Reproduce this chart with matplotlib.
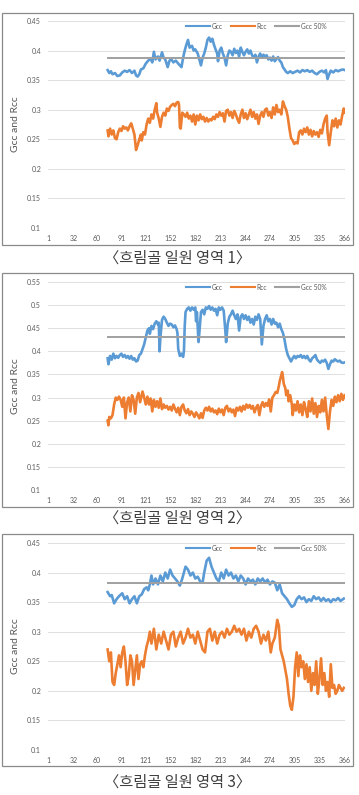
import matplotlib
matplotlib.use("Agg")
from matplotlib import pyplot as plt
from matplotlib.patches import Rectangle

plt.rcParams['font.family'] = ['Lato', 'DejaVu Sans']

# ---- data (day of year, value) ----
x_ticks = [1, 32, 60, 91, 121, 152, 182, 213, 244, 274, 305, 335, 366]
captions = ["〈흐림골 일원 영역 1〉", "〈흐림골 일원 영역 2〉", "〈흐림골 일원 영역 3〉"]
series_names = ["Gcc", "Rcc", "Gcc 50%"]

p1_gcc_day = [74, 76, 78, 80, 83, 86, 89, 92, 95, 98, 101, 104, 107, 109, 111, 113, 115, 118, 121, 124,
              127, 129, 131, 133, 136, 138, 141, 143, 145, 148, 150, 152, 155, 158, 161, 163, 165, 167, 169, 171,
              173, 175, 178, 180, 182, 185, 187, 189, 191, 193, 195, 197, 199, 201, 203, 205, 207, 209, 210, 212,
              214, 216, 218, 220, 222, 224, 226, 228, 230, 232, 234, 236, 238, 240, 242, 244, 246, 248, 250, 252,
              254, 256, 258, 260, 262, 264, 266, 268, 270, 272, 274, 276, 278, 280, 282, 284, 286, 288, 290, 292,
              294, 296, 299, 302, 305, 308, 311, 314, 317, 320, 323, 326, 329, 332, 335, 338, 341, 343, 345, 347,
              349, 352, 355, 358, 361, 364, 366]
p1_gcc = [.367, .362, .365, .360, .362, .357, .358, .363, .366, .364, .367, .362, .366, .358, .356, .360, .368, .370, .378, .383,
          .386, .380, .398, .385, .390, .383, .397, .388, .385, .372, .382, .386, .380, .383, .378, .375, .372, .388, .400, .410,
          .418, .405, .408, .400, .402, .395, .385, .375, .388, .395, .405, .418, .422, .415, .420, .410, .402, .395, .382, .400,
          .405, .395, .388, .375, .392, .400, .398, .392, .403, .396, .400, .390, .405, .398, .392, .398, .402, .395, .400, .392,
          .388, .393, .380, .390, .395, .388, .393, .390, .392, .385, .388, .383, .390, .382, .386, .389, .383, .380, .372, .368,
          .364, .362, .365, .362, .364, .366, .363, .367, .365, .367, .364, .366, .362, .360, .364, .366, .363, .367, .352, .360,
          .366, .363, .367, .365, .367, .368, .367]
p1_rcc_day = [74, 75, 77, 79, 81, 83, 85, 87, 89, 91, 93, 95, 97, 99, 101, 103, 105, 107, 109, 111,
              113, 115, 116, 118, 120, 122, 124, 126, 128, 130, 132, 134, 135, 137, 139, 141, 143, 145, 147, 149,
              151, 153, 155, 157, 159, 161, 162, 163, 164, 166, 168, 170, 172, 174, 176, 178, 180, 182, 184, 186,
              188, 190, 192, 194, 196, 198, 200, 202, 204, 206, 208, 210, 212, 214, 216, 218, 220, 222, 224, 226,
              228, 230, 232, 234, 236, 238, 240, 242, 244, 246, 248, 250, 252, 254, 256, 258, 260, 262, 264, 266,
              268, 270, 272, 274, 276, 278, 280, 282, 284, 286, 288, 290, 292, 294, 296, 298, 300, 302, 304, 306,
              308, 310, 312, 314, 316, 318, 320, 322, 324, 326, 328, 330, 332, 334, 336, 338, 340, 342, 344, 345,
              347, 349, 351, 353, 355, 357, 359, 361, 363, 365, 366]
p1_rcc = [.265, .255, .268, .258, .265, .252, .250, .262, .268, .264, .272, .268, .270, .265, .272, .277, .268, .258, .232, .240,
          .250, .258, .248, .262, .258, .275, .285, .278, .292, .285, .300, .311, .295, .285, .271, .288, .295, .290, .302, .298,
          .305, .308, .310, .306, .312, .313, .308, .270, .268, .295, .292, .288, .295, .285, .290, .280, .292, .275, .290, .282,
          .292, .284, .288, .280, .286, .280, .284, .282, .288, .284, .292, .288, .296, .290, .294, .280, .298, .300, .290, .296,
          .286, .298, .292, .284, .278, .292, .300, .286, .294, .284, .292, .300, .288, .296, .285, .292, .276, .290, .296, .288,
          .300, .302, .290, .296, .286, .304, .292, .308, .296, .300, .292, .314, .306, .300, .288, .268, .252, .248, .242, .245,
          .243, .262, .265, .258, .268, .262, .270, .258, .266, .255, .264, .258, .262, .254, .266, .260, .275, .285, .290, .262,
          .240, .262, .282, .272, .285, .270, .282, .275, .290, .302, .295]

p2_gcc_day = [74, 75, 77, 79, 81, 83, 85, 87, 89, 91, 93, 95, 97, 99, 101, 103, 105, 107, 109, 111,
              113, 115, 117, 119, 121, 123, 125, 126, 128, 130, 132, 134, 136, 137, 138, 139, 141, 143, 145, 147,
              149, 151, 153, 155, 157, 159, 160, 161, 163, 165, 167, 168, 169, 170, 172, 174, 176, 178, 180, 182,
              183, 184, 186, 187, 189, 191, 193, 195, 197, 199, 201, 203, 205, 207, 209, 211, 213, 215, 217, 219,
              220, 222, 224, 226, 228, 230, 232, 234, 236, 238, 240, 242, 244, 246, 248, 250, 252, 254, 256, 258,
              260, 262, 264, 266, 268, 270, 272, 274, 276, 278, 280, 282, 284, 286, 288, 290, 292, 294, 296, 298,
              300, 302, 304, 306, 308, 310, 312, 314, 316, 318, 320, 322, 324, 326, 328, 330, 332, 334, 336, 338,
              340, 342, 344, 346, 348, 350, 352, 354, 356, 358, 360, 362, 364, 366]
p2_gcc = [.385, .372, .390, .382, .395, .385, .390, .386, .392, .395, .388, .392, .386, .390, .384, .390, .382, .385, .378, .380,
          .392, .395, .405, .415, .430, .445, .450, .438, .455, .448, .460, .465, .458, .462, .400, .430, .468, .475, .470, .462,
          .455, .460, .458, .452, .456, .448, .440, .405, .390, .395, .388, .400, .455, .485, .492, .495, .488, .495, .490, .495,
          .465, .485, .420, .440, .485, .490, .480, .495, .492, .498, .490, .495, .488, .492, .478, .495, .490, .495, .488, .445,
          .420, .460, .475, .480, .488, .478, .470, .480, .445, .475, .480, .470, .478, .468, .475, .462, .470, .458, .475, .468,
          .480, .470, .415, .455, .470, .478, .465, .470, .458, .470, .460, .462, .452, .460, .448, .440, .425, .405, .392, .385,
          .378, .385, .390, .385, .390, .388, .392, .386, .390, .385, .390, .382, .378, .385, .388, .392, .382, .378, .375, .380,
          .378, .382, .375, .362, .372, .380, .378, .383, .380, .378, .380, .376, .375, .376]
p2_rcc_day = [74, 75, 76, 78, 80, 82, 84, 86, 88, 90, 92, 94, 96, 98, 100, 102, 104, 106, 108, 110,
              112, 114, 116, 117, 119, 121, 123, 125, 127, 129, 131, 133, 135, 137, 139, 141, 143, 145, 147, 149,
              151, 153, 155, 157, 159, 161, 163, 165, 167, 169, 171, 173, 175, 177, 179, 181, 183, 185, 187, 189,
              191, 193, 195, 197, 199, 201, 203, 205, 207, 209, 211, 213, 215, 217, 219, 221, 223, 225, 227, 229,
              231, 233, 235, 237, 239, 241, 243, 245, 247, 249, 251, 253, 255, 257, 259, 261, 263, 265, 267, 269,
              271, 273, 275, 277, 279, 281, 283, 285, 286, 288, 289, 290, 291, 293, 294, 296, 297, 299, 301, 302,
              304, 306, 308, 310, 312, 314, 316, 318, 320, 322, 324, 326, 328, 330, 332, 334, 336, 338, 340, 342,
              344, 346, 348, 350, 352, 354, 356, 358, 360, 362, 364, 366]
p2_rcc = [.250, .240, .258, .255, .262, .285, .300, .295, .302, .295, .280, .300, .255, .290, .300, .270, .305, .295, .265, .300,
          .310, .290, .305, .313, .300, .285, .302, .285, .298, .270, .295, .280, .292, .278, .298, .275, .285, .278, .282, .274,
          .280, .272, .285, .276, .268, .278, .262, .280, .285, .272, .266, .275, .262, .270, .265, .258, .268, .262, .255, .266,
          .256, .272, .278, .272, .280, .270, .276, .268, .272, .264, .276, .268, .274, .262, .278, .282, .270, .276, .268, .274,
          .260, .278, .272, .280, .270, .282, .274, .285, .278, .284, .276, .282, .268, .278, .284, .262, .282, .290, .280, .288,
          .282, .296, .270, .300, .305, .312, .310, .325, .335, .348, .355, .345, .330, .320, .305, .315, .292, .305, .285, .262,
          .285, .272, .292, .268, .285, .262, .290, .275, .258, .292, .270, .298, .265, .288, .258, .282, .268, .295, .270, .300,
          .262, .232, .270, .295, .282, .302, .290, .305, .292, .308, .295, .305]

p3_gcc_day = [74, 77, 79, 82, 85, 88, 92, 95, 98, 101, 104, 107, 110, 113, 116, 119, 122, 124, 126, 128,
              130, 133, 136, 139, 142, 145, 148, 151, 154, 157, 160, 163, 166, 170, 173, 176, 179, 182, 185, 188,
              191, 193, 196, 199, 202, 205, 208, 211, 214, 217, 220, 223, 226, 229, 232, 235, 238, 241, 244, 247,
              250, 253, 256, 259, 262, 265, 268, 271, 274, 277, 280, 283, 286, 289, 292, 295, 298, 301, 304, 307,
              310, 313, 316, 319, 322, 325, 328, 331, 334, 337, 340, 343, 346, 349, 352, 355, 358, 361, 365]
p3_gcc = [.367, .360, .362, .348, .355, .360, .365, .355, .360, .348, .355, .360, .348, .360, .363, .372, .375, .370, .380, .395,
          .380, .390, .380, .395, .385, .400, .390, .405, .395, .390, .385, .378, .390, .410, .405, .395, .400, .390, .393, .385,
          .383, .400, .420, .425, .410, .400, .390, .385, .400, .390, .405, .395, .400, .390, .395, .385, .395, .390, .380, .390,
          .385, .388, .380, .390, .385, .390, .383, .388, .380, .385, .383, .370, .380, .365, .360, .355, .348, .342, .345, .355,
          .360, .355, .358, .350, .355, .352, .360, .355, .358, .352, .357, .352, .355, .350, .355, .353, .357, .352, .356]
p3_rcc_day = [74, 76, 78, 80, 82, 84, 86, 88, 90, 92, 94, 96, 98, 100, 102, 104, 106, 108, 110, 112,
              114, 116, 118, 120, 122, 124, 126, 128, 131, 134, 137, 140, 143, 146, 149, 152, 155, 158, 161, 164,
              167, 170, 173, 176, 179, 182, 185, 188, 191, 194, 197, 200, 203, 206, 209, 212, 215, 218, 221, 224,
              227, 230, 233, 236, 239, 242, 245, 248, 251, 254, 257, 260, 263, 266, 269, 272, 275, 277, 280, 283,
              285, 287, 289, 291, 293, 295, 297, 299, 301, 303, 305, 307, 309, 311, 313, 315, 317, 319, 321, 323,
              325, 327, 329, 331, 333, 335, 337, 339, 341, 343, 345, 347, 349, 351, 353, 355, 357, 359, 361, 363, 365]
p3_rcc = [.270, .250, .265, .215, .210, .230, .245, .260, .240, .265, .275, .250, .210, .225, .260, .250, .210, .235, .260, .220,
          .245, .250, .240, .260, .275, .285, .300, .280, .305, .270, .295, .280, .300, .285, .270, .295, .300, .275, .290, .300,
          .280, .290, .305, .290, .295, .280, .300, .285, .270, .265, .300, .305, .285, .300, .280, .295, .300, .290, .305, .295,
          .300, .310, .300, .305, .295, .305, .285, .300, .290, .305, .310, .300, .280, .295, .285, .300, .265, .280, .290, .320,
          .310, .270, .260, .250, .235, .220, .195, .175, .168, .190, .240, .265, .225, .260, .240, .250, .220, .245, .215, .240,
          .200, .230, .210, .250, .195, .220, .255, .210, .230, .200, .215, .190, .245, .205, .210, .195, .200, .210, .205, .200, .205]

gcc50 = [0.387, 0.430, 0.383]
y_top = [0.45, 0.55, 0.45]
y_bottom = 0.1

panels = [
    (p1_gcc_day, p1_gcc, p1_rcc_day, p1_rcc),
    (p2_gcc_day, p2_gcc, p2_rcc_day, p2_rcc),
    (p3_gcc_day, p3_gcc, p3_rcc_day, p3_rcc),
]

W, H = 359, 795
fig = plt.figure(figsize=(W / 100, H / 100), dpi=100)

# pixel layout of each panel: (axes top, axes bottom, frame top, frame bottom, caption y)
layout = [(21, 228, 13, 245, 258), (282, 490, 273, 507, 518), (543, 750, 534, 766, 782)]
ax_left, ax_right = 48, 345

blue, orange, grey = "#5B9BD5", "#ED7D31", "#A0A0A0"
txt = "#595959"

for i, (gd, gv, rd, rv) in enumerate(panels):
    a_top, a_bot, f_top, f_bot, cap_y = layout[i]
    fig.patches.append(Rectangle((2 / W, 1 - f_bot / H), 351 / W, (f_bot - f_top) / H,
                                 transform=fig.transFigure, fill=False, ec="#8a8a8a", lw=0.9))
    ax = fig.add_axes([ax_left / W, 1 - a_bot / H, (ax_right - ax_left) / W, (a_bot - a_top) / H])
    ax.plot(gd, gv, color=blue, lw=1.9, label=series_names[0], solid_joinstyle="round")
    ax.plot(rd, rv, color=orange, lw=1.9, label=series_names[1], solid_joinstyle="round")
    ax.plot([gd[0], gd[-1]], [gcc50[i], gcc50[i]], color=grey, lw=1.4, label=series_names[2])

    ax.set_xlim(0.5, 366.5)
    ax.set_ylim(y_bottom, y_top[i])
    yt = [round(y_bottom + 0.05 * k, 2) for k in range(int(round((y_top[i] - y_bottom) / 0.05)) + 1)]
    ax.set_yticks(yt)
    ax.set_yticklabels([f"{v:g}" for v in yt])
    ax.set_xticks(x_ticks)
    ax.set_xticklabels([str(t) for t in x_ticks])
    ax.tick_params(length=0, labelsize=5, labelcolor=txt, pad=5)
    ax.grid(axis="y", color="#D9D9D9", lw=0.6)
    ax.set_axisbelow(True)
    for s in ax.spines.values():
        s.set_visible(False)
    ax.set_ylabel("Gcc and Rcc", fontsize=7.5, color=txt)
    ax.yaxis.set_label_coords((20 - ax_left) / (ax_right - ax_left), 0.5)

    leg = ax.legend(loc="upper right", bbox_to_anchor=(0.955, 1.015), ncol=3, frameon=False,
                    fontsize=4.8, labelcolor=txt, handlelength=3.6, handletextpad=0.3,
                    columnspacing=1.2, borderpad=0.2)
    for ln in leg.get_lines():
        ln.set_linewidth(1.5)

    fig.text(0.494, 1 - cap_y / H, captions[i], ha="center", va="center", fontsize=11,
             color="#404040", family=["Noto Sans CJK KR", "DejaVu Sans"])

fig.savefig("out.png", dpi=100, facecolor="white")
